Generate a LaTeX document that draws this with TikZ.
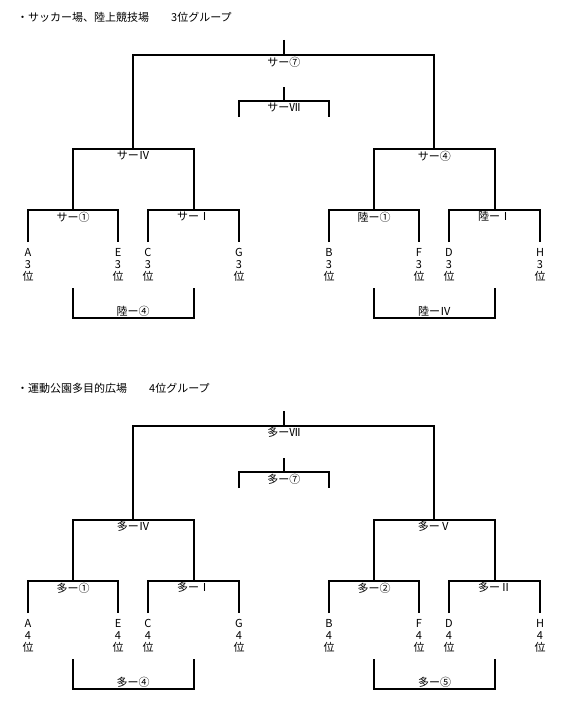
\documentclass[tikz,border=0pt]{standalone}
\usepackage{fontspec}
\setmainfont{Noto Sans CJK JP}
\usetikzlibrary{positioning}
\tikzset{
  % bracket lines
  br/.style={line width=2pt, line join=miter},
  % match label hanging under a bar
  mlabel/.style={anchor=north, inner sep=1.5pt, font=\fontsize{11}{12}\selectfont},
  % match label sitting on a bar
  blabel/.style={anchor=south, inner sep=1pt, font=\fontsize{11}{12}\selectfont},
  % team (letter, rank, 位)
  leaf/.style={anchor=north, align=center, inner sep=0pt, outer sep=6pt,
    font=\fontsize{11}{12}\selectfont},
  % group heading
  heading/.style={anchor=west, inner sep=0pt, font=\fontsize{11}{12}\selectfont},
}

\begin{document}
\begin{tikzpicture}[x=1pt, y=-1pt]
  \useasboundingbox (0,0) rectangle (563,709);

  %% ---------- 3位グループ ----------
  \node[heading] (shead) at (17,17) {・サッカー場、陸上競技場　　3位グループ};

  \node[leaf] (sA) at (28,242)  {A\\3\\位};
  \node[leaf] (sE) at (118,242) {E\\3\\位};
  \node[leaf] (sC) at (148,242) {C\\3\\位};
  \node[leaf] (sG) at (239,242) {G\\3\\位};
  \node[leaf] (sB) at (329,242) {B\\3\\位};
  \node[leaf] (sF) at (419,242) {F\\3\\位};
  \node[leaf] (sD) at (449,242) {D\\3\\位};
  \node[leaf] (sH) at (540,242) {H\\3\\位};

  \node[mlabel] (sa1) at (73,210)    {サー①};
  \node[mlabel] (sa2) at (193.5,210) {サーⅠ};
  \node[mlabel] (ra1) at (374,210)   {陸ー①};
  \node[mlabel] (ra2) at (494.5,210) {陸ーⅠ};
  \node[mlabel] (sb1) at (133.25,149) {サーⅣ};
  \node[mlabel] (sb2) at (434.25,149) {サー④};
  \node[mlabel] (sfin) at (283.75,55) {サー⑦};
  \node[mlabel] (s3rd) at (283.75,101) {サーⅦ};
  \node[blabel] (rc1) at (133,318) {陸ー④};
  \node[blabel] (rc2) at (434.5,318) {陸ーⅣ};

  \coordinate (stop)  at (283.75,40);
  \coordinate (s3top) at (283.75,87);
  \coordinate (s3l)   at (239,117);
  \coordinate (s3r)   at (329,117);
  \coordinate (rc1l)  at (73,288);
  \coordinate (rc1r)  at (193.5,288);
  \coordinate (rc2l)  at (374,288);
  \coordinate (rc2r)  at (494.5,288);

  \draw[br] (sA.north) |- (sa1.north) -| (sE.north);
  \draw[br] (sC.north) |- (sa2.north) -| (sG.north);
  \draw[br] (sB.north) |- (ra1.north) -| (sF.north);
  \draw[br] (sD.north) |- (ra2.north) -| (sH.north);
  \draw[br] (sa1.north) |- (sb1.north) -| (sa2.north);
  \draw[br] (ra1.north) |- (sb2.north) -| (ra2.north);
  \draw[br] (sb1.north) |- (sfin.north) -| (sb2.north);
  \draw[br] (stop) -- (sfin.north);
  \draw[br] (s3l) |- (s3rd.north) -| (s3r);
  \draw[br] (s3top) -- (s3rd.north);
  \draw[br] (rc1l) |- (rc1.south) -| (rc1r);
  \draw[br] (rc2l) |- (rc2.south) -| (rc2r);

  %% ---------- 4位グループ ----------
  \begin{scope}[shift={(0,371)}]
  \node[heading] (mhead) at (17,17) {・運動公園多目的広場　　4位グループ};

  \node[leaf] (mA) at (28,242)  {A\\4\\位};
  \node[leaf] (mE) at (118,242) {E\\4\\位};
  \node[leaf] (mC) at (148,242) {C\\4\\位};
  \node[leaf] (mG) at (239,242) {G\\4\\位};
  \node[leaf] (mB) at (329,242) {B\\4\\位};
  \node[leaf] (mF) at (419,242) {F\\4\\位};
  \node[leaf] (mD) at (449,242) {D\\4\\位};
  \node[leaf] (mH) at (540,242) {H\\4\\位};

  \node[mlabel] (ma1) at (73,210)    {多ー①};
  \node[mlabel] (ma2) at (193.5,210) {多ーⅠ};
  \node[mlabel] (ma3) at (374,210)   {多ー②};
  \node[mlabel] (ma4) at (494.5,210) {多ーⅡ};
  \node[mlabel] (mb1) at (133.25,149) {多ーⅣ};
  \node[mlabel] (mb2) at (434.25,149) {多ーⅤ};
  \node[mlabel] (mfin) at (283.75,55) {多ーⅦ};
  \node[mlabel] (m3rd) at (283.75,101) {多ー⑦};
  \node[blabel] (mc1) at (133,318) {多ー④};
  \node[blabel] (mc2) at (434.5,318) {多ー⑤};

  \coordinate (mtop)  at (283.75,40);
  \coordinate (m3top) at (283.75,87);
  \coordinate (m3l)   at (239,117);
  \coordinate (m3r)   at (329,117);
  \coordinate (mc1l)  at (73,288);
  \coordinate (mc1r)  at (193.5,288);
  \coordinate (mc2l)  at (374,288);
  \coordinate (mc2r)  at (494.5,288);

  \draw[br] (mA.north) |- (ma1.north) -| (mE.north);
  \draw[br] (mC.north) |- (ma2.north) -| (mG.north);
  \draw[br] (mB.north) |- (ma3.north) -| (mF.north);
  \draw[br] (mD.north) |- (ma4.north) -| (mH.north);
  \draw[br] (ma1.north) |- (mb1.north) -| (ma2.north);
  \draw[br] (ma3.north) |- (mb2.north) -| (ma4.north);
  \draw[br] (mb1.north) |- (mfin.north) -| (mb2.north);
  \draw[br] (mtop) -- (mfin.north);
  \draw[br] (m3l) |- (m3rd.north) -| (m3r);
  \draw[br] (m3top) -- (m3rd.north);
  \draw[br] (mc1l) |- (mc1.south) -| (mc1r);
  \draw[br] (mc2l) |- (mc2.south) -| (mc2r);
  \end{scope}

\end{tikzpicture}
\end{document}
